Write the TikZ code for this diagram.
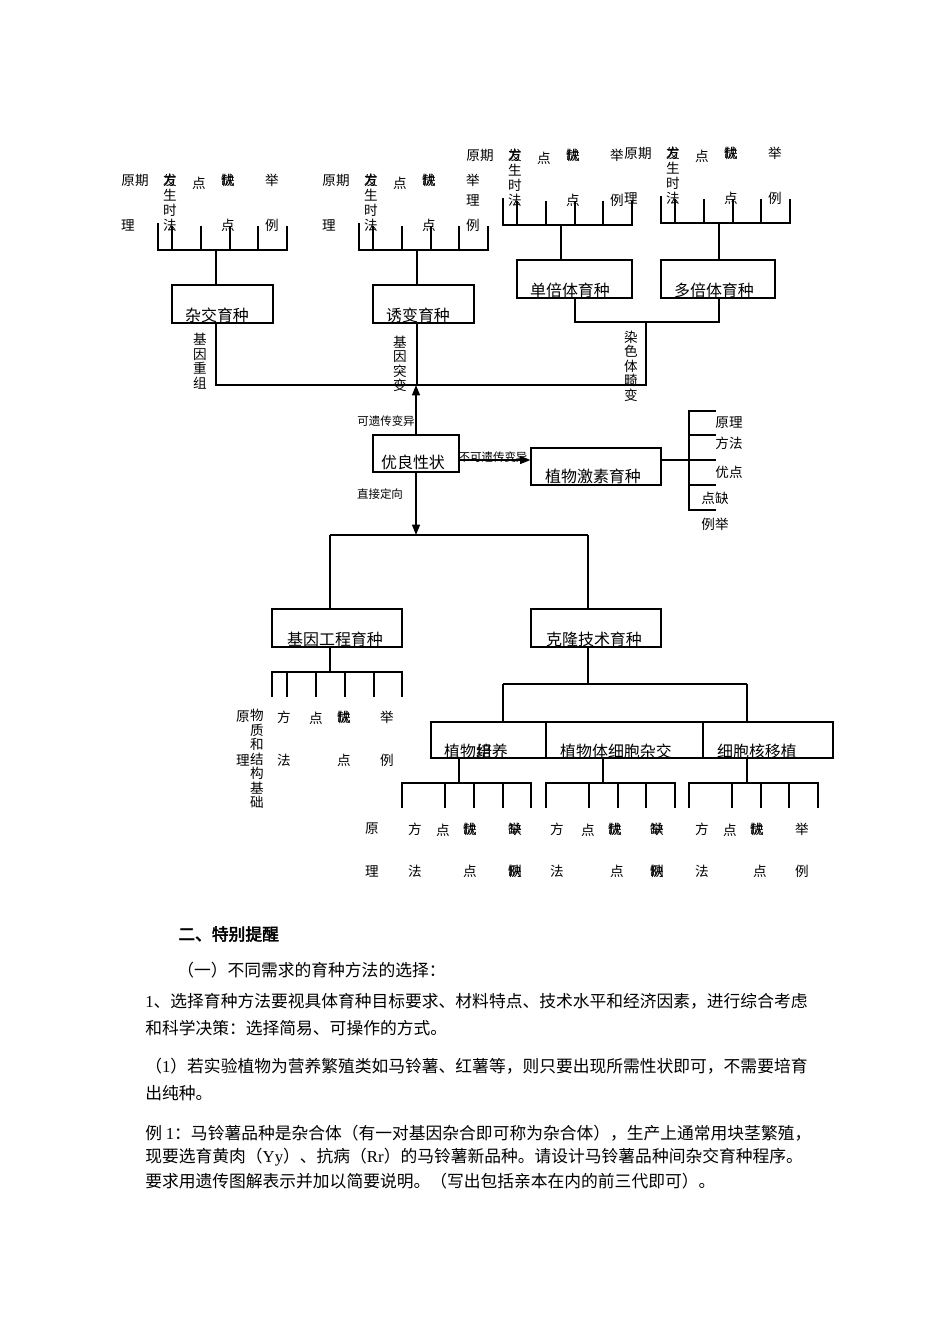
\documentclass[tikz,border=0pt]{standalone}
\usepackage{fontspec}
\setmainfont{Liberation Serif}
\newfontfamily\cjk{Noto Sans CJK SC}
\newfontfamily\cjkb[FakeBold=2.5]{Noto Sans CJK SC}
\usetikzlibrary{arrows.meta}
\def\px{0.6263pt}
\newcommand{\la}[1]{{\rmfamily #1}}
\tikzset{
 ln/.style={line width=0.75pt, black},
 boxn/.style={draw, line width=0.75pt, inner sep=0pt},
 btxt/.style={font=\cjk\fontsize{10}{12}\selectfont, inner sep=0pt},
 lab/.style={font=\cjk\fontsize{8.5}{9.2}\selectfont, inner sep=0pt},
 slab/.style={font=\cjk\fontsize{7.2}{8.5}\selectfont, inner sep=0pt},
 vlab/.style={font=\cjk\fontsize{8.5}{9.1}\selectfont, inner sep=0pt, align=center},
 body/.style={font=\cjk\fontsize{10.5}{12}\selectfont, inner sep=0pt, anchor=west},
 arr/.style={ln, -{Triangle[length=6.5pt,width=5pt]}},
}
% box from (x1,y1) to (x2,y2) in pixel coordinates
\newcommand{\bx}[5]{%
 \node[boxn, minimum width={(#4-#2)*\px}, minimum height={(#5-#3)*\px}] (#1) at ({(#2+#4)/2},{(#3+#5)/2}) {};}
% comb with labels above (top part)
\newcommand{\topgrp}[3]{%
\begin{scope}[shift={(#2,#3)}]
 \draw[ln] (158,223) -- (158,250) -- (287,250) -- (287,226);
 \foreach \t in {172,201,230,258} \draw[ln] (\t,226) -- (\t,250);
 \coordinate (#1c) at (216,250);
 \node[lab] (#1a) at (135,180) {原期};
 \node[lab] (#1b) at (128,225) {理};
 \node[lab] (#1d) at (170,180) {\rlap{发}方};
 \node[lab] (#1f) at (170,195) {生};
 \node[lab] (#1g) at (170,210) {时};
 \node[lab] (#1h) at (170,225) {法};
 \node[lab] (#1i) at (199,183) {点};
 \node[lab] (#1j) at (228,180) {\rlap{优}缺};
 \node[lab] (#1l) at (228,225) {点};
 \node[lab] (#1m) at (272,180) {举};
 \node[lab] (#1n) at (272,225) {例};
\end{scope}}
\begin{document}
\begin{tikzpicture}[x=\px, y=-\px]
\fill[white] (0,0) rectangle (950,1344);
\useasboundingbox (0,0) rectangle (950,1344);

% ---------- top comb groups ----------
\topgrp{ga}{0}{0}
\topgrp{gb}{201}{0}
\topgrp{gc}{345}{-25}
\topgrp{gd}{503}{-27}

% ---------- top boxes ----------
\bx{b1}{172}{285}{273}{323}
\bx{b2}{373}{285}{474}{323}
\bx{b3}{517}{260}{632}{298}
\bx{b4}{661}{260}{775}{298}
\node[btxt] (b1t) at (217,315) {杂交育种};
\node[btxt] (b2t) at (418,315) {诱变育种};
\node[btxt] (b3t) at (570,290) {单倍体育种};
\node[btxt] (b4t) at (714,290) {多倍体育种};

\draw[ln] (gac) -- (gac |- b1.north);
\draw[ln] (gbc) -- (gbc |- b2.north);
\draw[ln] (gcc) -- (gcc |- b3.north);
\draw[ln] (gdc) -- (gdc |- b4.north);

% junctions
\coordinate (j1) at (216,385);
\coordinate (j2) at (646,385);
\coordinate (j3) at (575,322);
\coordinate (j4) at (719,322);
\coordinate (j5) at (646,322);
\draw[ln] (j1 |- b1.south) -- (j1) -- (j2) -- (j5);
\draw[ln] (gbc |- b2.south) -- (gbc |- j1);
\draw[ln] (j3 |- b3.south) -- (j3) -- (j4) -- (j4 |- b4.south);

\node[vlab] (v1) at (200,361) {基\\因\\重\\组};
\node[vlab] (v2) at (400,364) {基\\因\\突\\变};
\node[vlab] (v3) at (631,366) {染\\色\\体\\畸\\变};

% ---------- middle ----------
\bx{yl}{373}{435}{459}{472}
\node[btxt] (ylt) at (413,462) {优良性状};
\bx{zw}{531}{448}{661}{485}
\node[btxt] (zwt) at (593,476) {植物激素育种};

\draw[arr] (yl.north) -- (yl.north |- j1);
\node[slab] (l1) at (386,421) {可遗传变异};
\coordinate (ar) at (600,460);
\draw[arr] (yl.east |- ar) -- (zw.west |- ar);
\node[slab] (l2) at (493,457) {不可遗传变异};
\coordinate (dn) at (416,535);
\draw[arr] (yl.south) -- (dn);
\node[slab] (l3) at (380,494) {直接定向};

% bracket right of 植物激素育种
\coordinate (br) at (716,460);
\draw[ln] (zw.east |- br) -- (br);
\draw[ln] (716,411) -- (689,411) -- (689,510) -- (716,510);
\draw[ln] (689,435) -- (716,435);
\draw[ln] (689,485) -- (716,485);
\node[lab] (r1) at (729,423) {原理};
\node[lab] (r2) at (729,443) {方法};
\node[lab] (r3) at (729,472) {优点};
\node[lab] (r4) at (715,498) {点缺};
\node[lab] (r5) at (715,524) {例举};

% ---------- lower part ----------
\bx{jg}{272}{609}{402}{647}
\node[btxt] (jgt) at (335,639) {基因工程育种};
\bx{kl}{531}{609}{661}{647}
\node[btxt] (klt) at (594,639) {克隆技术育种};

\coordinate (h1) at (330,535);
\coordinate (h2) at (588,535);
\draw[ln] (h1) -- (h2);
\draw[ln] (h1) -- (h1 |- jg.north);
\draw[ln] (h2) -- (h2 |- kl.north);

% comb under 基因工程育种
\coordinate (jc) at (330,672);
\draw[ln] (jc |- jg.south) -- (jc);
\draw[ln] (272,697) -- (272,672) -- (402,672) -- (402,697);
\foreach \t in {287,316,345,374} \draw[ln] (\t,672) -- (\t,697);
\node[lab] (ja) at (243,717) {原};
\node[vlab] (jb) at (257,759) {物\\质\\和\\结\\构\\基\\础};
\node[lab] (jd) at (243,760) {理};
\node[lab] (je) at (284,717) {方};
\node[lab] (jf) at (284,760) {法};
\node[lab] (jh) at (316,718) {点};
\node[lab] (ji) at (344,717) {\rlap{优}缺};
\node[lab] (jj) at (344,760) {点};
\node[lab] (jk) at (387,717) {举};
\node[lab] (jl) at (387,760) {例};

% clone subtree
\coordinate (kc) at (588,684);
\draw[ln] (kc |- kl.south) -- (kc);
\coordinate (k1) at (503,684);
\coordinate (k2) at (747,684);
\draw[ln] (k1) -- (k2);
\bx{c1}{431}{722}{546}{758}
\bx{c2}{546}{722}{703}{758}
\bx{c3}{703}{722}{833}{758}
\draw[ln] (k1) -- (k1 |- c1.north);
\draw[ln] (k2) -- (k2 |- c3.north);
\node[btxt] (c1t) at (476,751) {植物\rlap{组}培养};
\node[btxt] (c2t) at (616,751) {植物体细胞杂交};
\node[btxt] (c3t) at (757,751) {细胞核移植};

% combs under the three boxes
\coordinate (m1) at (459,783);
\draw[ln] (m1 |- c1.south) -- (m1);
\draw[ln] (402,808) -- (402,783) -- (531,783) -- (531,808);
\foreach \t in {445,474,503} \draw[ln] (\t,783) -- (\t,808);
\coordinate (m2) at (603,783);
\draw[ln] (m2 |- c2.south) -- (m2);
\draw[ln] (546,808) -- (546,783) -- (675,783) -- (675,808);
\foreach \t in {589,618,646} \draw[ln] (\t,783) -- (\t,808);
\coordinate (m3) at (747,783);
\draw[ln] (m3 |- c3.south) -- (m3);
\draw[ln] (689,808) -- (689,783) -- (818,783) -- (818,808);
\foreach \t in {732,761,789} \draw[ln] (\t,783) -- (\t,808);

\node[lab] (n1) at (372,829) {原};
\node[lab] (n2) at (372,871) {理};
\node[lab] (n3) at (415,829) {方};
\node[lab] (n4) at (415,871) {法};
\node[lab] (n5) at (443,830) {点};
\node[lab] (n6) at (470,829) {\rlap{优}缺};
\node[lab] (n7) at (470,871) {点};
\node[lab] (n8) at (515,829) {\rlap{举}缺};
\node[lab] (n9) at (515,871) {\rlap{例}缺};

\node[lab] (o3) at (557,829) {方};
\node[lab] (o4) at (557,871) {法};
\node[lab] (o5) at (588,830) {点};
\node[lab] (o6) at (615,829) {\rlap{优}缺};
\node[lab] (o7) at (617,871) {点};
\node[lab] (o8) at (657,829) {\rlap{举}缺};
\node[lab] (o9) at (657,871) {\rlap{例}缺};

\node[lab] (q3) at (702,829) {方};
\node[lab] (q4) at (702,871) {法};
\node[lab] (q5) at (730,830) {点};
\node[lab] (q6) at (757,829) {\rlap{优}缺};
\node[lab] (q7) at (760,871) {点};
\node[lab] (q8) at (802,829) {举};
\node[lab] (q9) at (802,871) {例};

% ---------- text below ----------
\node[body] (p1) at (178,934) {\cjkb 二、特别提醒};
\node[body] (p2) at (177,970) {（一）不同需求的育种方法的选择：};
\node[body] (p3) at (145,1001) {\la{1}、选择育种方法要视具体育种目标要求、材料特点、技术水平和经济因素，进行综合考虑};
\node[body] (p4) at (145,1028) {和科学决策：选择简易、可操作的方式。};
\node[body] (p5) at (145,1066) {（\la{1}）若实验植物为营养繁殖类如马铃薯、红薯等，则只要出现所需性状即可，不需要培育};
\node[body] (p6) at (145,1093) {出纯种。};
\node[body] (p7) at (145,1133) {例 \la{1}：马铃薯品种是杂合体（有一对基因杂合即可称为杂合体），生产上通常用块茎繁殖，};
\node[body] (p8) at (145,1157) {现要选育黄肉（\la{Yy}）、抗病（\la{Rr}）的马铃薯新品种。请设计马铃薯品种间杂交育种程序。};
\node[body] (p9) at (145,1181) {要求用遗传图解表示并加以简要说明。（写出包括亲本在内的前三代即可）。};
\end{tikzpicture}
\end{document}
